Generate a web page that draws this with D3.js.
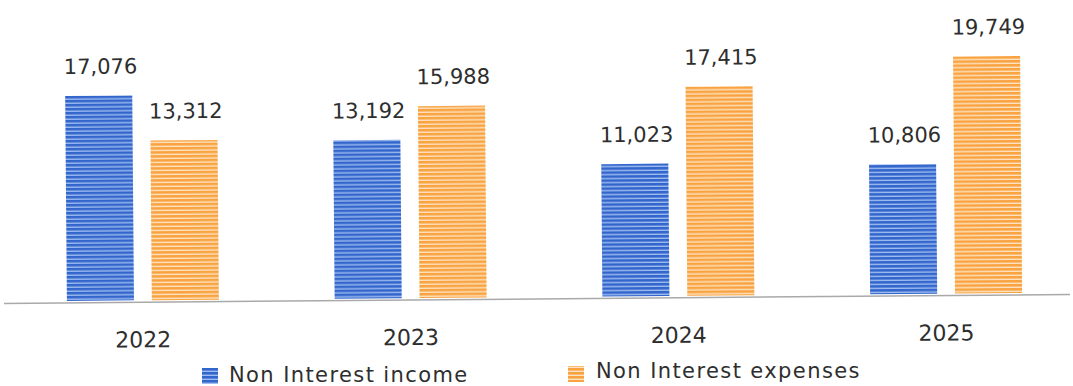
<!DOCTYPE html>
<html>
<head>
<meta charset="utf-8">
<script src="https://cdn.jsdelivr.net/npm/d3@7"></script>
<style>
  html, body { margin: 0; padding: 0; background: #fff; }
  svg { display: block; }
  text { font-family: "DejaVu Sans", "Noto Sans", sans-serif; fill: #2e2e2e; }
</style>
</head>
<body>
<div id="chart"></div>
<script>
// Yearly non-interest income vs. expenses
const years = ["2022", "2023", "2024", "2025"];
const incomeValues = [17076, 13192, 11023, 10806];
const expenseValues = [13312, 15988, 17415, 19749];
const seriesNames = ["Non Interest income", "Non Interest expenses"];

const W = 1073, H = 386;
const baseline = 297;

const svg = d3.select("#chart").append("svg")
  .attr("width", W).attr("height", H);

// striped fills for the bars
const defs = svg.append("defs");
function stripes(id, dark, light) {
  const p = defs.append("pattern")
    .attr("id", id).attr("patternUnits", "userSpaceOnUse")
    .attr("width", 8).attr("height", 4);
  p.append("rect").attr("width", 8).attr("height", 4).attr("fill", light);
  p.append("rect").attr("width", 8).attr("height", 2.6).attr("fill", dark);
}
stripes("blueStripe", "#3366cc", "#9fbdf0");
stripes("orangeStripe", "#f9a340", "#fde3c2");

// the whole plot sits at a slight tilt
const g = svg.append("g")
  .attr("transform", `rotate(-0.48, ${W / 2}, ${baseline})`);

const x0 = d3.scaleBand().domain(years).range([9, 1080]).paddingInner(0).paddingOuter(0);
const x1 = d3.scaleBand().domain([0, 1]).range([0, 152]).paddingInner(0.21);
const y = d3.scaleLinear().domain([0, 20000]).range([baseline, baseline - 240]);

const rows = years.map((yr, i) => ({ yr, vals: [incomeValues[i], expenseValues[i]] }));
const fills = ["url(#blueStripe)", "url(#orangeStripe)"];

const groups = g.selectAll("g.year").data(rows).enter().append("g")
  .attr("class", "year")
  .attr("transform", d => `translate(${x0(d.yr) + (x0.bandwidth() - 152) / 2},0)`);

groups.selectAll("rect").data(d => d.vals).enter().append("rect")
  .attr("x", (d, j) => x1(j))
  .attr("width", x1.bandwidth())
  .attr("y", d => y(d))
  .attr("height", d => y(0) - y(d))
  .attr("fill", (d, j) => fills[j]);

groups.selectAll("text.val").data(d => d.vals).enter().append("text")
  .attr("class", "val")
  .attr("x", (d, j) => x1(j) + x1.bandwidth() / 2 + 2)
  .attr("y", d => y(d) - 22)
  .attr("text-anchor", "middle")
  .attr("font-size", 21)
  .text(d => d3.format(",")(d));

// baseline
g.append("line")
  .attr("x1", 4).attr("x2", 1070)
  .attr("y1", y(0) + 2).attr("y2", y(0) + 2)
  .attr("stroke", "#a9a9a9").attr("stroke-width", 1.5);

// year labels
const xAxis = d3.axisBottom(x0).tickSize(0).tickPadding(0);
const ax = g.append("g").attr("transform", `translate(0,${y(0) + 47})`).call(xAxis);
ax.select(".domain").remove();
ax.selectAll("text").attr("font-size", 22).attr("fill", "#2e2e2e")
  .attr("font-family", "'DejaVu Sans', sans-serif").attr("dy", 0);

// legend
const legendPos = [
  { sx: 202, sy: 368, tx: 229, ty: 382 },
  { sx: 568, sy: 366, tx: 596, ty: 378 }
];
seriesNames.forEach((name, i) => {
  const p = legendPos[i];
  svg.append("rect")
    .attr("x", p.sx).attr("y", p.sy)
    .attr("width", 16).attr("height", 16)
    .attr("fill", fills[i]);
  svg.append("text")
    .attr("x", p.tx).attr("y", p.ty)
    .attr("font-size", 21)
    .attr("letter-spacing", 1.4)
    .text(name);
});
</script>
</body>
</html>
